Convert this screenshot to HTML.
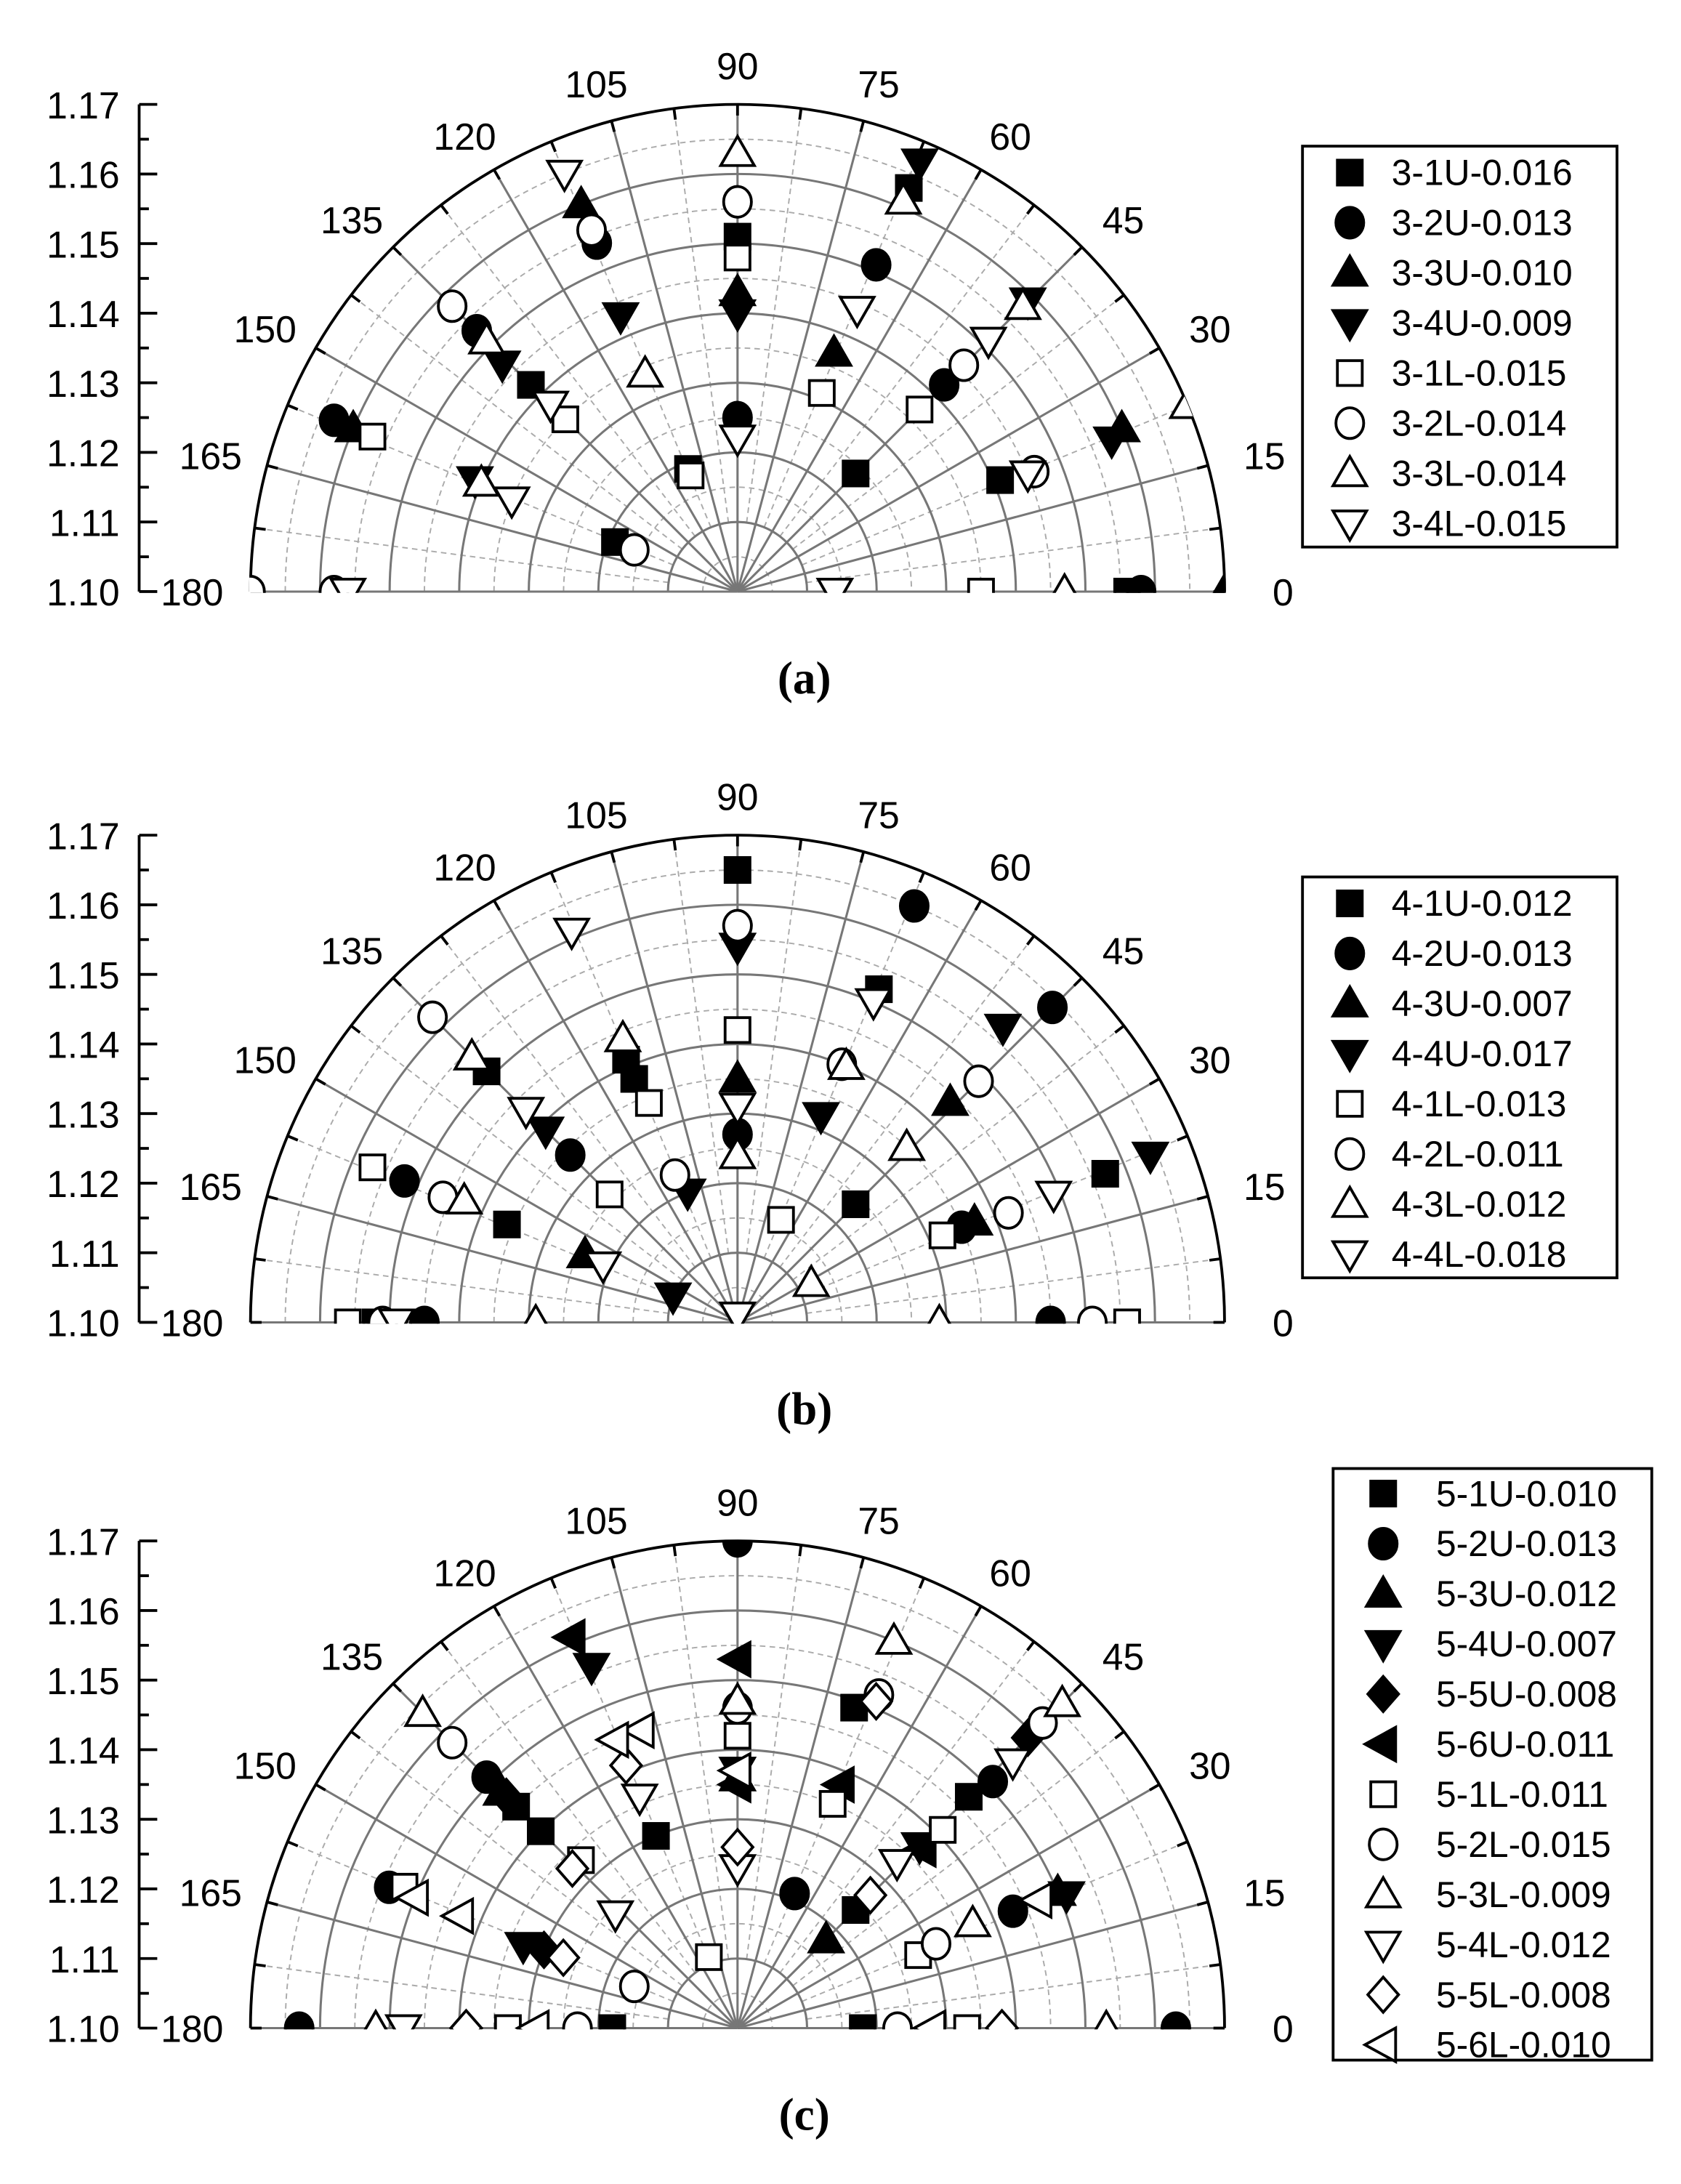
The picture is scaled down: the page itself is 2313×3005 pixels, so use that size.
<!DOCTYPE html>
<html><head><meta charset="utf-8"><style>
html,body{margin:0;padding:0;background:#fff}
svg{display:block}
text{font-family:"Liberation Sans",Arial,sans-serif;fill:#000}
</style></head><body>
<svg id="chart" width="2313" height="3005" viewBox="0 0 1208 1569" preserveAspectRatio="none" xmlns="http://www.w3.org/2000/svg"></svg>
<script>
// ---- data: each point is [angle in degrees, value] ----
const namesA = ["3-1U-0.016","3-2U-0.013","3-3U-0.010","3-4U-0.009","3-1L-0.015","3-2L-0.014","3-3L-0.014","3-4L-0.015"];
const shapesA = ["sq","ci","tu","td","sq","ci","tu","td"];
const filledA = [1,1,1,1,0,0,0,0];
const a_3_1U = [[90,1.151],[67,1.163],[135,1.142],[45,1.124],[23,1.141],[112,1.119],[158,1.119],[0,1.156]];
const a_3_2U = [[112,1.154],[67,1.151],[45,1.142],[90,1.125],[0,1.158],[135,1.153],[157,1.163]];
const a_3_3U = [[112,1.160],[68,1.137],[23,1.160],[157,1.160],[90,1.143],[0,1.170]];
const a_3_4U = [[113,1.143],[67,1.167],[45,1.159],[22,1.158],[157,1.141],[136,1.147],[90,1.140]];
const a_3_1L = [[90,1.148],[67,1.131],[45,1.137],[112,1.118],[135,1.135],[157,1.157],[0,1.135]];
const a_3_2L = [[90,1.156],[112,1.156],[135,1.158],[45,1.146],[22,1.146],[158,1.116],[180,1.158],[180,1.170]];
const a_3_3L = [[90,1.163],[67,1.161],[113,1.134],[45,1.158],[135,1.151],[157,1.140],[0,1.147],[22.5,1.170]];
const a_3_4L = [[112.5,1.165],[67,1.144],[45,1.151],[135,1.138],[158,1.135],[90,1.122],[0,1.114],[180,1.156],[22,1.145]];

const namesB = ["4-1U-0.012","4-2U-0.013","4-3U-0.007","4-4U-0.017","4-1L-0.013","4-2L-0.011","4-3L-0.012","4-4L-0.018"];
const b_4_1U = [[90,1.165],[67,1.152],[22,1.157],[135,1.151],[113,1.141],[113,1.138],[157,1.136],[45,1.124],[180,1.152]];
const b_4_2U = [[67,1.165],[45,1.164],[90,1.127],[135,1.134],[157,1.152],[23,1.135],[180,1.145],[0,1.145]];
const b_4_3U = [[90,1.135],[46,1.144],[156,1.124],[23,1.137]];
const b_4_4U = [[90,1.154],[48,1.157],[22,1.164],[68,1.132],[135,1.139],[111,1.120],[158,1.110]];
const b_4_1L = [[90,1.142],[112,1.134],[135,1.126],[157,1.157],[67,1.116],[23,1.132],[0,1.156],[180,1.156]];
const b_4_2L = [[90,1.157],[135,1.162],[68,1.140],[45,1.149],[113,1.123],[157,1.146],[22,1.142],[180,1.151],[0,1.151]];
const b_4_3L = [[135,1.154],[112,1.144],[67,1.140],[46,1.135],[90,1.124],[156,1.143],[28,1.112],[180,1.129],[0,1.129]];
const b_4_4L = [[113,1.161],[67,1.150],[22,1.149],[90,1.131],[135,1.143],[157,1.121],[90,1.101],[180,1.149]];

const namesC = ["5-1U-0.010","5-2U-0.013","5-3U-0.012","5-4U-0.007","5-5U-0.008","5-6U-0.011","5-1L-0.011","5-2L-0.015","5-3L-0.009","5-4L-0.012","5-5L-0.008","5-6L-0.010"];
const shapesC = ["sq","ci","tu","td","di","tl","sq","ci","tu","td","di","tl"];
const filledC = [1,1,1,1,1,1,0,0,0,0,0,0];
const c_5_1U = [[45,1.124],[45,1.147],[70,1.149],[113,1.130],[135,1.140],[135,1.145],[180,1.118],[0,1.118]];
const c_5_2U = [[90,1.170],[44,1.151],[67,1.121],[135,1.151],[158,1.154],[23,1.143],[180,1.163],[0,1.163]];
const c_5_3U = [[45,1.118],[90,1.136],[23,1.150],[135,1.148]];
const c_5_4U = [[112,1.156],[159,1.133],[45,1.137],[22,1.151],[90,1.137]];
const c_5_5U = [[45,1.159],[135,1.147],[158,1.130]];
const c_5_6U = [[113,1.161],[90,1.153],[67,1.138],[90,1.135],[44,1.137]];
const c_5_1L = [[90,1.142],[67,1.135],[44,1.141],[133,1.133],[157,1.152],[112,1.111],[22,1.128],[0,1.133],[180,1.133]];
const c_5_2L = [[90,1.146],[135,1.158],[67,1.152],[45,1.162],[158,1.116],[23,1.131],[180,1.123],[0,1.123]];
const c_5_3L = [[90,1.147],[68,1.160],[45,1.166],[135,1.164],[0,1.153],[180,1.152],[24,1.137]];
const c_5_4L = [[90,1.123],[137,1.124],[46,1.133],[44,1.155],[180,1.148],[113,1.136]];
const c_5_5L = [[90,1.126],[67,1.151],[45,1.127],[158,1.127],[136,1.133],[113,1.141],[180,1.139],[0,1.138]];
const c_5_6L = [[90,1.137],[108,1.145],[23,1.147],[158,1.150],[180,1.129],[0,1.128],[158,1.143],[113,1.145]];

const rTicks = [1.10,1.11,1.12,1.13,1.14,1.15,1.16,1.17];
const angleTicks = [0,15,30,45,60,75,90,105,120,135,150,165,180];

const NS = "http://www.w3.org/2000/svg";
const svg = document.getElementById("chart");
const R = 350, RMIN = 1.10, RMAX = 1.17;
function rScale(v){ return (v - RMIN) / (RMAX - RMIN) * R; }
function px(cx, a, v){ return cx + rScale(v) * Math.cos(a*Math.PI/180); }
function py(cy, a, v){ return cy - rScale(v) * Math.sin(a*Math.PI/180); }
function mk(tag, attrs, parent){
  const e = document.createElementNS(NS, tag);
  for (const k in attrs) e.setAttribute(k, attrs[k]);
  (parent || svg).appendChild(e);
  return e;
}
const defs = mk("defs", {});
function marker(g, shape, filled, x, y, s){
  const f = filled ? "#000" : "#fff";
  const st = {fill:f, stroke:"#000", "stroke-width":2};
  let e;
  if (shape === "sq") e = mk("rect", Object.assign({x:x-s*0.85, y:y-s*0.85, width:s*1.7, height:s*1.7}, st), g);
  else if (shape === "ci") e = mk("ellipse", Object.assign({cx:x, cy:y, rx:s*0.95, ry:s*1.05}, st), g);
  else if (shape === "tu") e = mk("polygon", Object.assign({points:`${x},${y-s*1.15} ${x+s*1.15},${y+s*0.85} ${x-s*1.15},${y+s*0.85}`}, st), g);
  else if (shape === "td") e = mk("polygon", Object.assign({points:`${x},${y+s*1.15} ${x+s*1.15},${y-s*0.85} ${x-s*1.15},${y-s*0.85}`}, st), g);
  else if (shape === "di") e = mk("polygon", Object.assign({points:`${x},${y-s*1.2} ${x+s*1.05},${y} ${x},${y+s*1.2} ${x-s*1.05},${y}`}, st), g);
  else e = mk("polygon", Object.assign({points:`${x-s*1.25},${y} ${x+s*0.85},${y-s*1.15} ${x+s*0.85},${y+s*1.15}`}, st), g);
  return e;
}

function panel(id, cx, cy, seriesList, names, shapes, filled, legend, label){
  const cp = mk("clipPath", {id:"clip-"+id}, defs);
  mk("path", {d:`M${cx-R-1},${cy+1} A${R+1},${R+1} 0 0 1 ${cx+R+1},${cy+1} Z`}, cp);
  const g = mk("g", {});
  
  
  const grid = mk("g", {}, g);
  
  
  for (let v = 1.105; v < 1.17; v += 0.01) {
    const r = rScale(v);
    mk("path", {d:`M${cx-r},${cy} A${r},${r} 0 0 1 ${cx+r},${cy}`, fill:"none", stroke:"#aaa", "stroke-width":1, "stroke-dasharray":"4,3"}, grid);
  }
  for (let a = 7.5; a < 180; a += 15) {
    mk("line", {x1:px(cx,a,1.11), y1:py(cy,a,1.11), x2:px(cx,a,1.17), y2:py(cy,a,1.17), stroke:"#aaa", "stroke-width":1, "stroke-dasharray":"4,3"}, grid);
  }
  rTicks.slice(1,-1).forEach(v => {
    const r = rScale(v);
    mk("path", {d:`M${cx-r},${cy} A${r},${r} 0 0 1 ${cx+r},${cy}`, fill:"none", stroke:"#777", "stroke-width":1.6}, grid);
  });
  angleTicks.forEach(a => {
    mk("line", {x1:cx, y1:cy, x2:px(cx,a,RMAX), y2:py(cy,a,RMAX), stroke:"#777", "stroke-width":1.6}, grid);
  });
  mk("path", {d:`M${cx-R},${cy} A${R},${R} 0 0 1 ${cx+R},${cy}`, fill:"none", stroke:"#000", "stroke-width":2}, g);
  for (let a = 0; a <= 180; a += 7.5) {
    const c = Math.cos(a*Math.PI/180), s = Math.sin(a*Math.PI/180);
    mk("line", {x1:cx+R*c, y1:cy-R*s, x2:cx+(R-8)*c, y2:cy-(R-8)*s, stroke:"#000", "stroke-width":2}, g);
  }
  angleTicks.forEach(a => {
    const c = Math.cos(a*Math.PI/180), s = Math.sin(a*Math.PI/180);
    const t = mk("text", {x:cx+392*c, y:cy-378*s+10, "font-size":27, "text-anchor":"middle"}, g);
    
    
    t.textContent = a;
  });
  const ax = mk("g", {}, g);
  
  
  mk("line", {x1:100, y1:cy, x2:100, y2:cy-R, stroke:"#000", "stroke-width":2}, ax);
  for (let i = 0; i <= 14; i++) {
    const y = cy - i * R / 14;
    mk("line", {x1:100, y1:y, x2:i%2===0 ? 113 : 107, y2:y, stroke:"#000", "stroke-width":2}, ax);
  }
  rTicks.forEach(v => {
    const t = mk("text", {x:86, y:cy - rScale(v) + 10, "font-size":27, "text-anchor":"end"}, ax);
    
    
    t.textContent = v.toFixed(2);
  });
  const pts = mk("g", {"clip-path":"url(#clip-"+id+")"}, g);
  seriesList.forEach((data, i) => {
    const sg = mk("g", {}, pts);
    
    
    data.forEach(p => {
      const m = marker(sg, shapes[i], filled[i], px(cx,p[0],p[1]), py(cy,p[0],p[1]), 10.5);
      
      
    });
  });
  const lg = mk("g", {}, g);
  
  
  mk("rect", {x:legend.x, y:legend.y, width:legend.w, height:legend.h, fill:"#fff", stroke:"#000", "stroke-width":2}, lg);
  names.forEach((n, i) => {
    const y = legend.y0 + i * 36;
    const e = mk("g", {}, lg);
    
    
    marker(e, shapes[i], filled[i], legend.mx, y, 10.5);
    const t = mk("text", {x:legend.tx, y:y+9, "font-size":26}, e);
    t.textContent = n;
  });
  const lab = mk("text", {x:cx+48, y:cy+73, "font-size":33, "text-anchor":"middle", style:'font-family:"Liberation Serif",serif;font-weight:bold'}, g);
  
  
  lab.textContent = label;
}

panel("a", 530, 425, [a_3_1U,a_3_2U,a_3_3U,a_3_4U,a_3_1L,a_3_2L,a_3_3L,a_3_4L], namesA, shapesA, filledA,
  {x:936, y:105, w:226, h:288, y0:124, mx:970, tx:1000}, "(a)");
panel("b", 530, 950, [b_4_1U,b_4_2U,b_4_3U,b_4_4U,b_4_1L,b_4_2L,b_4_3L,b_4_4L], namesB, shapesA, filledA,
  {x:936, y:630, w:226, h:288, y0:649, mx:970, tx:1000}, "(b)");
panel("c", 530, 1457, [c_5_1U,c_5_2U,c_5_3U,c_5_4U,c_5_5U,c_5_6U,c_5_1L,c_5_2L,c_5_3L,c_5_4L,c_5_5L,c_5_6L], namesC, shapesC, filledC,
  {x:958, y:1055, w:229, h:425, y0:1073, mx:994, tx:1032}, "(c)");
</script>
</body></html>
